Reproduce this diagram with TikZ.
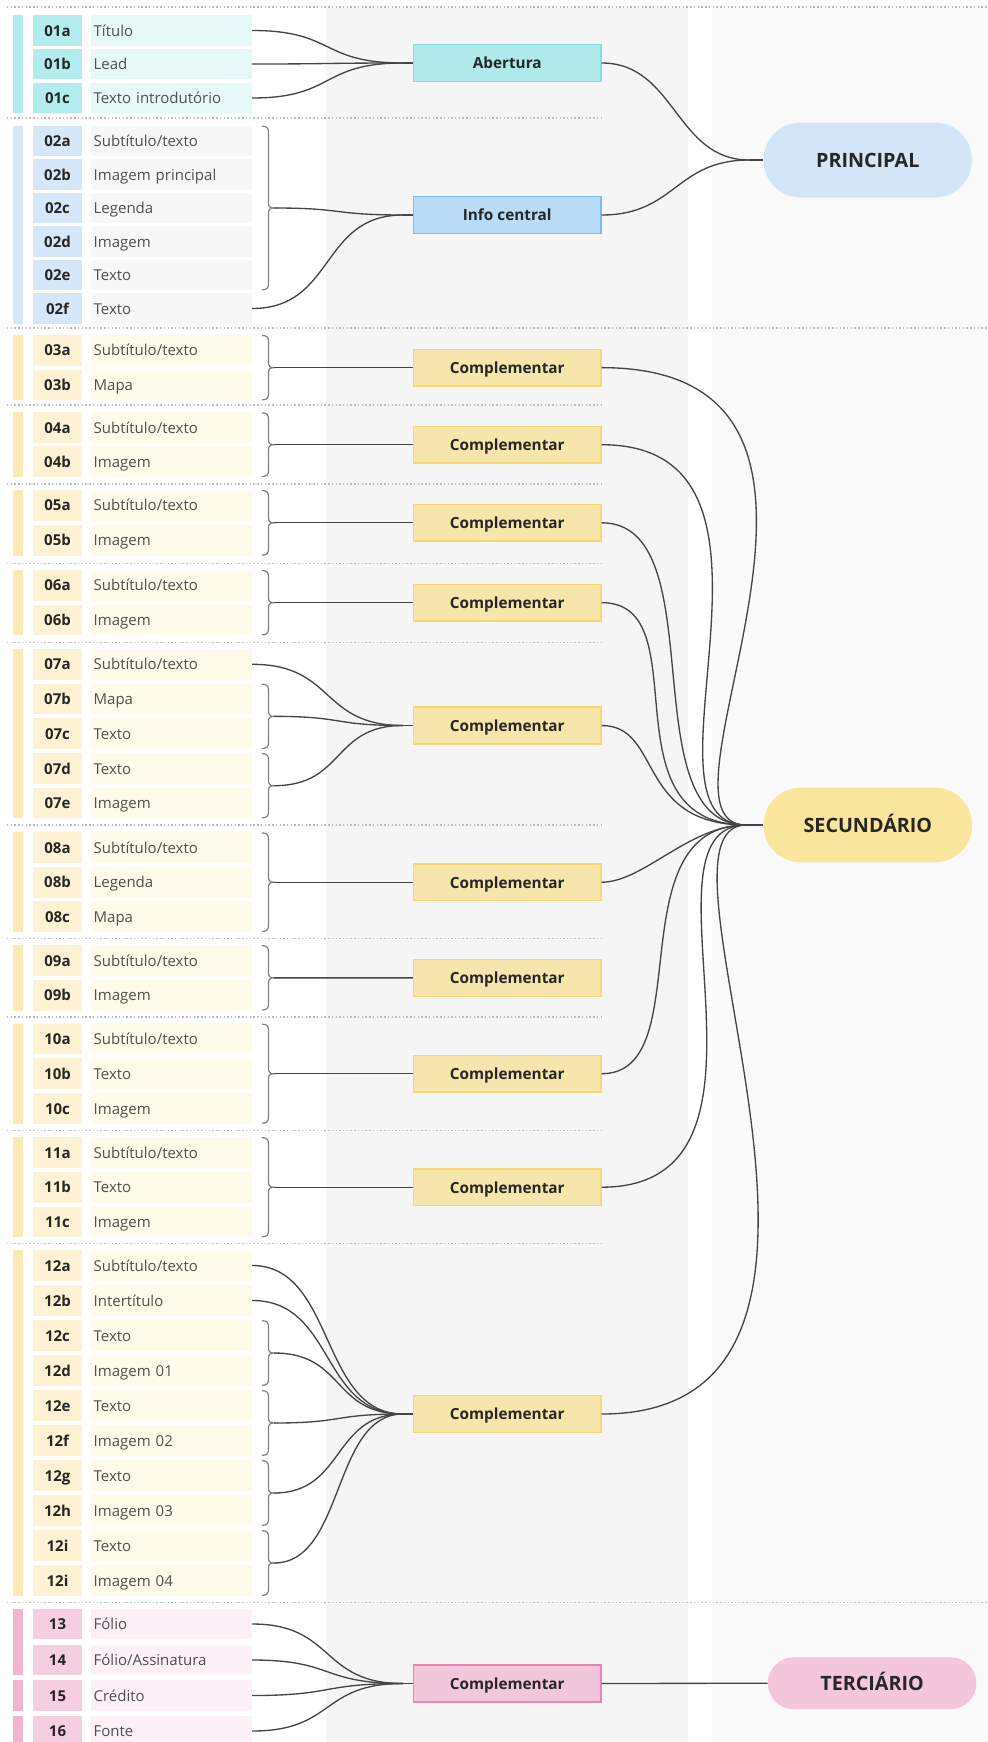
\documentclass[tikz,border=0pt]{standalone}
\usepackage{fontspec}
\setmainfont{Open Sans}
\usetikzlibrary{calc}
\definecolor{cyanbar}{HTML}{B3ECEE}
\definecolor{cyanid}{HTML}{B3ECEE}
\definecolor{cyanlbl}{HTML}{E6F8F8}
\definecolor{aberfill}{HTML}{AFE9EA}
\definecolor{aberdraw}{HTML}{7FDFE3}
\definecolor{bluebar}{HTML}{D5E7F8}
\definecolor{blueid}{HTML}{D5E7F8}
\definecolor{bluelbl}{HTML}{F7F7F7}
\definecolor{infofill}{HTML}{B9DBF5}
\definecolor{infodraw}{HTML}{7DBBEE}
\definecolor{princfill}{HTML}{D3E6F7}
\definecolor{yelbar}{HTML}{FCE9B4}
\definecolor{yelid}{HTML}{FDF3D4}
\definecolor{yellbl}{HTML}{FEFBEA}
\definecolor{compfill}{HTML}{F7E6AB}
\definecolor{compdraw}{HTML}{F8D86E}
\definecolor{secfill}{HTML}{FAE59C}
\definecolor{pinkbar}{HTML}{F2B5D1}
\definecolor{pinkid}{HTML}{F6CEE1}
\definecolor{pinklbl}{HTML}{FDF0F6}
\definecolor{pcompfill}{HTML}{F2C6DB}
\definecolor{pcompdraw}{HTML}{E985B4}
\definecolor{terfill}{HTML}{F3C6DB}
\definecolor{gcol}{HTML}{F5F5F5}
\definecolor{gcol2}{HTML}{F9F9F9}
\definecolor{sepc}{HTML}{BDBDBD}
\definecolor{connc}{HTML}{454545}
\definecolor{bracec}{HTML}{808080}
\definecolor{idtext}{HTML}{262626}
\definecolor{lbltext}{HTML}{505050}
\tikzset{
  conn/.style={draw=connc, line width=1pt},
  bracestyle/.style={draw=bracec, line width=0.9pt},
  sepline/.style={draw=sepc, line width=1.1pt, dash pattern=on 1.1pt off 1.7pt},
  idbox/.style={inner sep=0pt, minimum width=36.75pt, minimum height=22.95pt,
    font=\fontsize{11.25pt}{13pt}\selectfont\bfseries, text=idtext, text height=8.5pt, text depth=0pt},
  lblbox/.style={anchor=west, inner xsep=1.8pt, inner ysep=0pt, text width=116.9pt,
    minimum height=22.95pt, align=left, font=\fontsize{11.25pt}{13pt}\selectfont,
    text=lbltext, text height=8.5pt, text depth=0pt},
  compbox/.style={line width=1.1pt, minimum width=140.5pt, minimum height=27.6pt, inner sep=0pt,
    font=\fontsize{11.5pt}{13pt}\selectfont\bfseries, text=idtext, text height=8.7pt, text depth=0pt},
  pill/.style={minimum width=156.4pt, inner sep=0pt,
    font=\fontsize{14.8pt}{17pt}\selectfont\bfseries, text=idtext, text height=11.2pt, text depth=0pt},
}
% #1 name, #2 id, #3 label, #4 y, #5 id fill, #6 label fill
\newcommand\rowitem[6]{%
  \node[idbox, fill=#5] (N#1) at (57.5,#4) {#2};
  \node[lblbox, fill=#6] (L#1) at (91,#4) {#3};
}
\newcommand\secbar[3]{\fill[#1] (13,#2) rectangle (23,#3);}
% #1 name, #2 top, #3 bottom
\newcommand\mybrace[3]{%
  \draw[bracestyle] (262,#2) .. controls (266.5,#2) and (268.5,{#2+1.5}) .. (268.5,{#2+6})
    -- (268.5,{(#2+#3)/2-5}) .. controls (268.5,{(#2+#3)/2-1.5}) and (270,{(#2+#3)/2}) .. (274,{(#2+#3)/2})
    .. controls (270,{(#2+#3)/2}) and (268.5,{(#2+#3)/2+1.5}) .. (268.5,{(#2+#3)/2+5})
    -- (268.5,{#3-6}) .. controls (268.5,{#3-1.5}) and (266.5,#3) .. (262,#3);
  \coordinate (#1) at (274,{(#2+#3)/2});
}
% horizontal-tangent curve between two named points
\newcommand\hcurve[3][0.55]{%
  \draw[conn] let \p1=(#2), \p2=(#3) in (\p1) .. controls ({\x1+#1*(\x2-\x1)},\y1) and ({\x2-#1*(\x2-\x1)},\y2) .. (\p2);}
% curve from box east to secondary junction, #2 = a, #3 = b
\newcommand\scurve[3]{%
  \draw[conn] (#1.east) .. controls ($(#1.east)+(#2,0)$) and ($(jS)+(-#3,0)$) .. (jS);}
\begin{document}
\begin{tikzpicture}[x=0.75pt, y=-0.75pt]
\useasboundingbox (0,0) rectangle (988,1742);
\clip (0,0) rectangle (988,1742);
\fill[white] (0,0) rectangle (988,1742);
% background columns
\fill[gcol] (325.8,8) rectangle (688,1742);
\fill[gcol2] (712,8) rectangle (988,1742);
% separators
\foreach \yy in {7,328,1602.7} {\draw[sepline] (7,\yy) -- (988,\yy);}
\foreach \yy in {118,405,484,563.3,642.7,825,938.3,1017,1130.5,1243.5} {\draw[sepline] (7,\yy) -- (601.5,\yy);}
% section bars
\secbar{cyanbar}{15.2}{113.3}
\secbar{bluebar}{125.7}{323.8}
\secbar{yelbar}{335}{400.3}
\secbar{yelbar}{412.4}{477}
\secbar{yelbar}{490}{555.6}
\secbar{yelbar}{570}{635.3}
\secbar{yelbar}{649}{818.3}
\secbar{yelbar}{832.4}{932}
\secbar{yelbar}{945.2}{1010.5}
\secbar{yelbar}{1023.7}{1123.7}
\secbar{yelbar}{1137.2}{1237.2}
\secbar{yelbar}{1250.2}{1595.8}
\secbar{pinkbar}{1608.7}{1675.3}
\secbar{pinkbar}{1680.2}{1710.8}
\secbar{pinkbar}{1715.7}{1746}
% rows
\rowitem{01a}{01a}{Título}{30.5}{cyanid}{cyanlbl}
\rowitem{01b}{01b}{Lead}{64}{cyanid}{cyanlbl}
\rowitem{01c}{01c}{Texto introdutório}{98}{cyanid}{cyanlbl}
\rowitem{02a}{02a}{Subtítulo/texto}{141}{blueid}{bluelbl}
\rowitem{02b}{02b}{Imagem principal}{174.5}{blueid}{bluelbl}
\rowitem{02c}{02c}{Legenda}{208}{blueid}{bluelbl}
\rowitem{02d}{02d}{Imagem}{241.5}{blueid}{bluelbl}
\rowitem{02e}{02e}{Texto}{275}{blueid}{bluelbl}
\rowitem{02f}{02f}{Texto}{308.5}{blueid}{bluelbl}
\rowitem{03a}{03a}{Subtítulo/texto}{350.3}{yelid}{yellbl}
\rowitem{03b}{03b}{Mapa}{385}{yelid}{yellbl}
\rowitem{04a}{04a}{Subtítulo/texto}{427.7}{yelid}{yellbl}
\rowitem{04b}{04b}{Imagem}{461.7}{yelid}{yellbl}
\rowitem{05a}{05a}{Subtítulo/texto}{505.3}{yelid}{yellbl}
\rowitem{05b}{05b}{Imagem}{540.3}{yelid}{yellbl}
\rowitem{06a}{06a}{Subtítulo/texto}{585.3}{yelid}{yellbl}
\rowitem{06b}{06b}{Imagem}{620}{yelid}{yellbl}
\rowitem{07a}{07a}{Subtítulo/texto}{664.3}{yelid}{yellbl}
\rowitem{07b}{07b}{Mapa}{699}{yelid}{yellbl}
\rowitem{07c}{07c}{Texto}{733.7}{yelid}{yellbl}
\rowitem{07d}{07d}{Texto}{768.4}{yelid}{yellbl}
\rowitem{07e}{07e}{Imagem}{803}{yelid}{yellbl}
\rowitem{08a}{08a}{Subtítulo/texto}{847.7}{yelid}{yellbl}
\rowitem{08b}{08b}{Legenda}{882.2}{yelid}{yellbl}
\rowitem{08c}{08c}{Mapa}{916.7}{yelid}{yellbl}
\rowitem{09a}{09a}{Subtítulo/texto}{960.5}{yelid}{yellbl}
\rowitem{09b}{09b}{Imagem}{995.2}{yelid}{yellbl}
\rowitem{10a}{10a}{Subtítulo/texto}{1039}{yelid}{yellbl}
\rowitem{10b}{10b}{Texto}{1073.7}{yelid}{yellbl}
\rowitem{10c}{10c}{Imagem}{1108.4}{yelid}{yellbl}
\rowitem{11a}{11a}{Subtítulo/texto}{1152.5}{yelid}{yellbl}
\rowitem{11b}{11b}{Texto}{1187.2}{yelid}{yellbl}
\rowitem{11c}{11c}{Imagem}{1221.9}{yelid}{yellbl}
\rowitem{12a}{12a}{Subtítulo/texto}{1265.5}{yelid}{yellbl}
\rowitem{12b}{12b}{Intertítulo}{1300.5}{yelid}{yellbl}
\rowitem{12c}{12c}{Texto}{1335.5}{yelid}{yellbl}
\rowitem{12d}{12d}{Imagem 01}{1370.5}{yelid}{yellbl}
\rowitem{12e}{12e}{Texto}{1405.5}{yelid}{yellbl}
\rowitem{12f}{12f}{Imagem 02}{1440.5}{yelid}{yellbl}
\rowitem{12g}{12g}{Texto}{1475.5}{yelid}{yellbl}
\rowitem{12h}{12h}{Imagem 03}{1510.5}{yelid}{yellbl}
\rowitem{12i}{12i}{Texto}{1545.5}{yelid}{yellbl}
\rowitem{12j}{12i}{Imagem 04}{1580.5}{yelid}{yellbl}
\rowitem{13}{13}{Fólio}{1624}{pinkid}{pinklbl}
\rowitem{14}{14}{Fólio/Assinatura}{1660}{pinkid}{pinklbl}
\rowitem{15}{15}{Crédito}{1695.5}{pinkid}{pinklbl}
\rowitem{16}{16}{Fonte}{1731}{pinkid}{pinklbl}
% braces
\mybrace{B02}{126.2}{289.8}
\mybrace{B03}{335.5}{399.8}
\mybrace{B04}{412.9}{476.5}
\mybrace{B05}{490.5}{555.1}
\mybrace{B06}{570.5}{634.8}
\mybrace{B07a}{684.2}{748.5}
\mybrace{B07b}{753.6}{817.8}
\mybrace{B08}{832.9}{931.5}
\mybrace{B09}{945.7}{1010}
\mybrace{B10}{1024.2}{1123.2}
\mybrace{B11}{1137.7}{1236.7}
\mybrace{B12a}{1320.7}{1385.3}
\mybrace{B12b}{1390.7}{1455.3}
\mybrace{B12c}{1460.7}{1525.3}
\mybrace{B12d}{1530.7}{1595.3}
% middle boxes
\node[compbox, fill=aberfill, draw=aberdraw] (A) at (507.25,63) {Abertura};
\node[compbox, fill=infofill, draw=infodraw] (I) at (507.25,215) {Info central};
\node[compbox, fill=compfill, draw=compdraw] (C03) at (507.25,367.65) {Complementar};
\node[compbox, fill=compfill, draw=compdraw] (C04) at (507.25,444.7) {Complementar};
\node[compbox, fill=compfill, draw=compdraw] (C05) at (507.25,522.8) {Complementar};
\node[compbox, fill=compfill, draw=compdraw] (C06) at (507.25,602.65) {Complementar};
\node[compbox, fill=compfill, draw=compdraw] (C07) at (507.25,725.5) {Complementar};
\node[compbox, fill=compfill, draw=compdraw] (C08) at (507.25,882.2) {Complementar};
\node[compbox, fill=compfill, draw=compdraw] (C09) at (507.25,977.85) {Complementar};
\node[compbox, fill=compfill, draw=compdraw] (C10) at (507.25,1073.7) {Complementar};
\node[compbox, fill=compfill, draw=compdraw] (C11) at (507.25,1187.2) {Complementar};
\node[compbox, fill=compfill, draw=compdraw] (C12) at (507.25,1414) {Complementar};
\node[compbox, fill=pcompfill, draw=pcompdraw] (C13) at (507.25,1683.5) {Complementar};
% pills
\node[pill, fill=princfill, minimum height=56.25pt, rounded corners=28pt] (P) at (867.75,160) {PRINCIPAL};
\node[pill, fill=secfill, minimum height=56pt, rounded corners=27.9pt] (S) at (867.85,825) {SECUNDÁRIO};
\node[pill, fill=terfill, minimum height=38.8pt, rounded corners=19.3pt] (T) at (872.1,1683.2) {TERCIÁRIO};
% junctions
\coordinate (jA) at ($(A.west)+(-10,0)$);
\coordinate (jI) at ($(I.west)+(-10,0)$);
\coordinate (j07) at ($(C07.west)+(-10,0)$);
\coordinate (j12) at ($(C12.west)+(-10,0)$);
\coordinate (j13) at ($(C13.west)+(-10,0)$);
\coordinate (jP) at ($(P.west)+(-14,0)$);
\coordinate (jS) at ($(S.west)+(-17,0)$);
% left connectors
\hcurve{L01a.east}{jA}
\hcurve{L01b.east}{jA}
\hcurve{L01c.east}{jA}
\draw[conn] (jA) -- (A.west);
\hcurve{B02}{jI}
\hcurve{L02f.east}{jI}
\draw[conn] (jI) -- (I.west);
\draw[conn] (B03) -- (C03.west);
\draw[conn] (B04) -- (C04.west);
\draw[conn] (B05) -- (C05.west);
\draw[conn] (B06) -- (C06.west);
\hcurve{L07a.east}{j07}
\hcurve{B07a}{j07}
\hcurve{B07b}{j07}
\draw[conn] (j07) -- (C07.west);
\draw[conn] (B08) -- (C08.west);
\draw[conn] (B09) -- (C09.west);
\draw[conn] (B10) -- (C10.west);
\draw[conn] (B11) -- (C11.west);
\hcurve{L12a.east}{j12}
\hcurve{L12b.east}{j12}
\hcurve{B12a}{j12}
\hcurve{B12b}{j12}
\hcurve{B12c}{j12}
\hcurve{B12d}{j12}
\draw[conn] (j12) -- (C12.west);
\hcurve{L13.east}{j13}
\hcurve{L14.east}{j13}
\hcurve{L15.east}{j13}
\hcurve{L16.east}{j13}
\draw[conn] (j13) -- (C13.west);
% right connectors
\hcurve[0.5]{A.east}{jP}
\hcurve[0.5]{I.east}{jP}
\draw[conn] (jP) -- (P.west);
\scurve{C03}{315.5}{113}
\scurve{C04}{219.5}{122}
\scurve{C05}{114.5}{117}
\scurve{C06}{100}{145}
\scurve{C07}{61}{111}
\scurve{C08}{42}{57}
\scurve{C10}{99}{132}
\scurve{C11}{204}{119}
\scurve{C12}{322}{117}
\draw[conn] (jS) -- (S.west);
\draw[conn] (C13.east) -- (T.west);
\end{tikzpicture}
\end{document}
